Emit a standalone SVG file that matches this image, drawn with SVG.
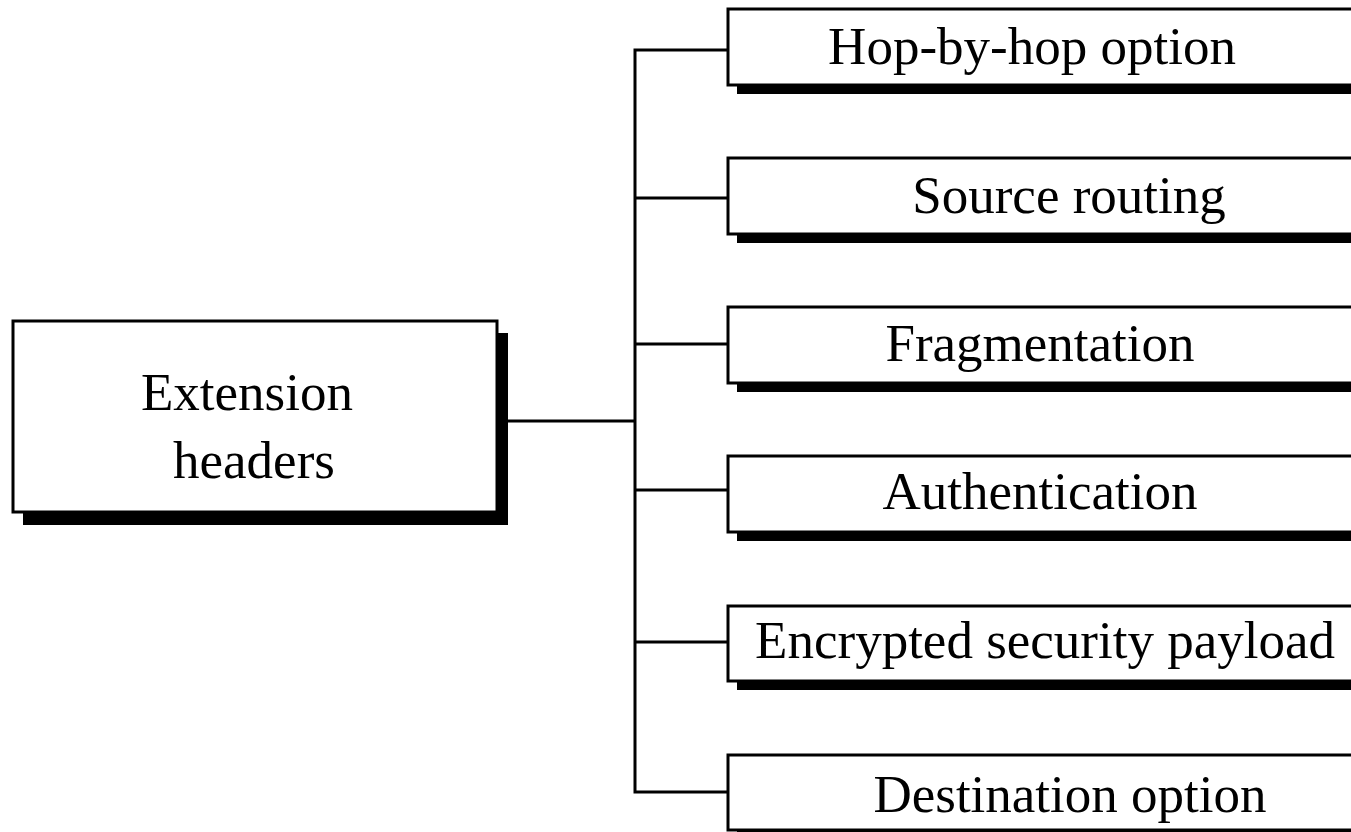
<svg xmlns="http://www.w3.org/2000/svg" width="1351" height="832" viewBox="0 0 1351 832">
<style>
.box{fill:#fff;stroke:#000;stroke-width:3}
.sh{fill:#000}
.t{font-family:"Liberation Serif","Times New Roman",serif;font-size:53px;fill:#000;text-anchor:middle}
.c{fill:none;stroke:#000;stroke-width:3}
</style>
<rect width="1351" height="832" fill="#fff"/>
<g id="connectors">
<polyline class="c" points="728,50 635,50 635,792 728,792"/>
<line class="c" x1="635" y1="198" x2="728" y2="198"/>
<line class="c" x1="635" y1="344" x2="728" y2="344"/>
<line class="c" x1="635" y1="490" x2="728" y2="490"/>
<line class="c" x1="635" y1="642" x2="728" y2="642"/>
<line class="c" x1="497" y1="421" x2="635" y2="421"/>
</g>
<g id="extension-headers">
<rect class="sh" x="23" y="333" width="485" height="192"/>
<rect class="box" x="13" y="321" width="484" height="191"/>
<text class="t" x="247" y="410">Extension</text>
<text class="t" x="254" y="478">headers</text>
</g>
<g id="hop-by-hop">
<rect class="sh" x="737" y="18" width="640" height="76"/>
<rect class="box" x="728" y="9" width="640" height="76"/>
<text class="t" x="1032" y="64">Hop-by-hop option</text>
</g>
<g id="source-routing">
<rect class="sh" x="737" y="167" width="640" height="76"/>
<rect class="box" x="728" y="158" width="640" height="76"/>
<text class="t" x="1069" y="213">Source routing</text>
</g>
<g id="fragmentation">
<rect class="sh" x="737" y="316" width="640" height="76"/>
<rect class="box" x="728" y="307" width="640" height="76"/>
<text class="t" x="1040" y="361">Fragmentation</text>
</g>
<g id="authentication">
<rect class="sh" x="737" y="465" width="640" height="76"/>
<rect class="box" x="728" y="456" width="640" height="76"/>
<text class="t" x="1040" y="509">Authentication</text>
</g>
<g id="esp">
<rect class="sh" x="737" y="615" width="640" height="75"/>
<rect class="box" x="728" y="606" width="640" height="75"/>
<text class="t" x="1045" y="658">Encrypted security payload</text>
</g>
<g id="destination">
<rect class="sh" x="737" y="764" width="640" height="75"/>
<rect class="box" x="728" y="755" width="640" height="75"/>
<text class="t" x="1070" y="812">Destination option</text>
</g>
</svg>
